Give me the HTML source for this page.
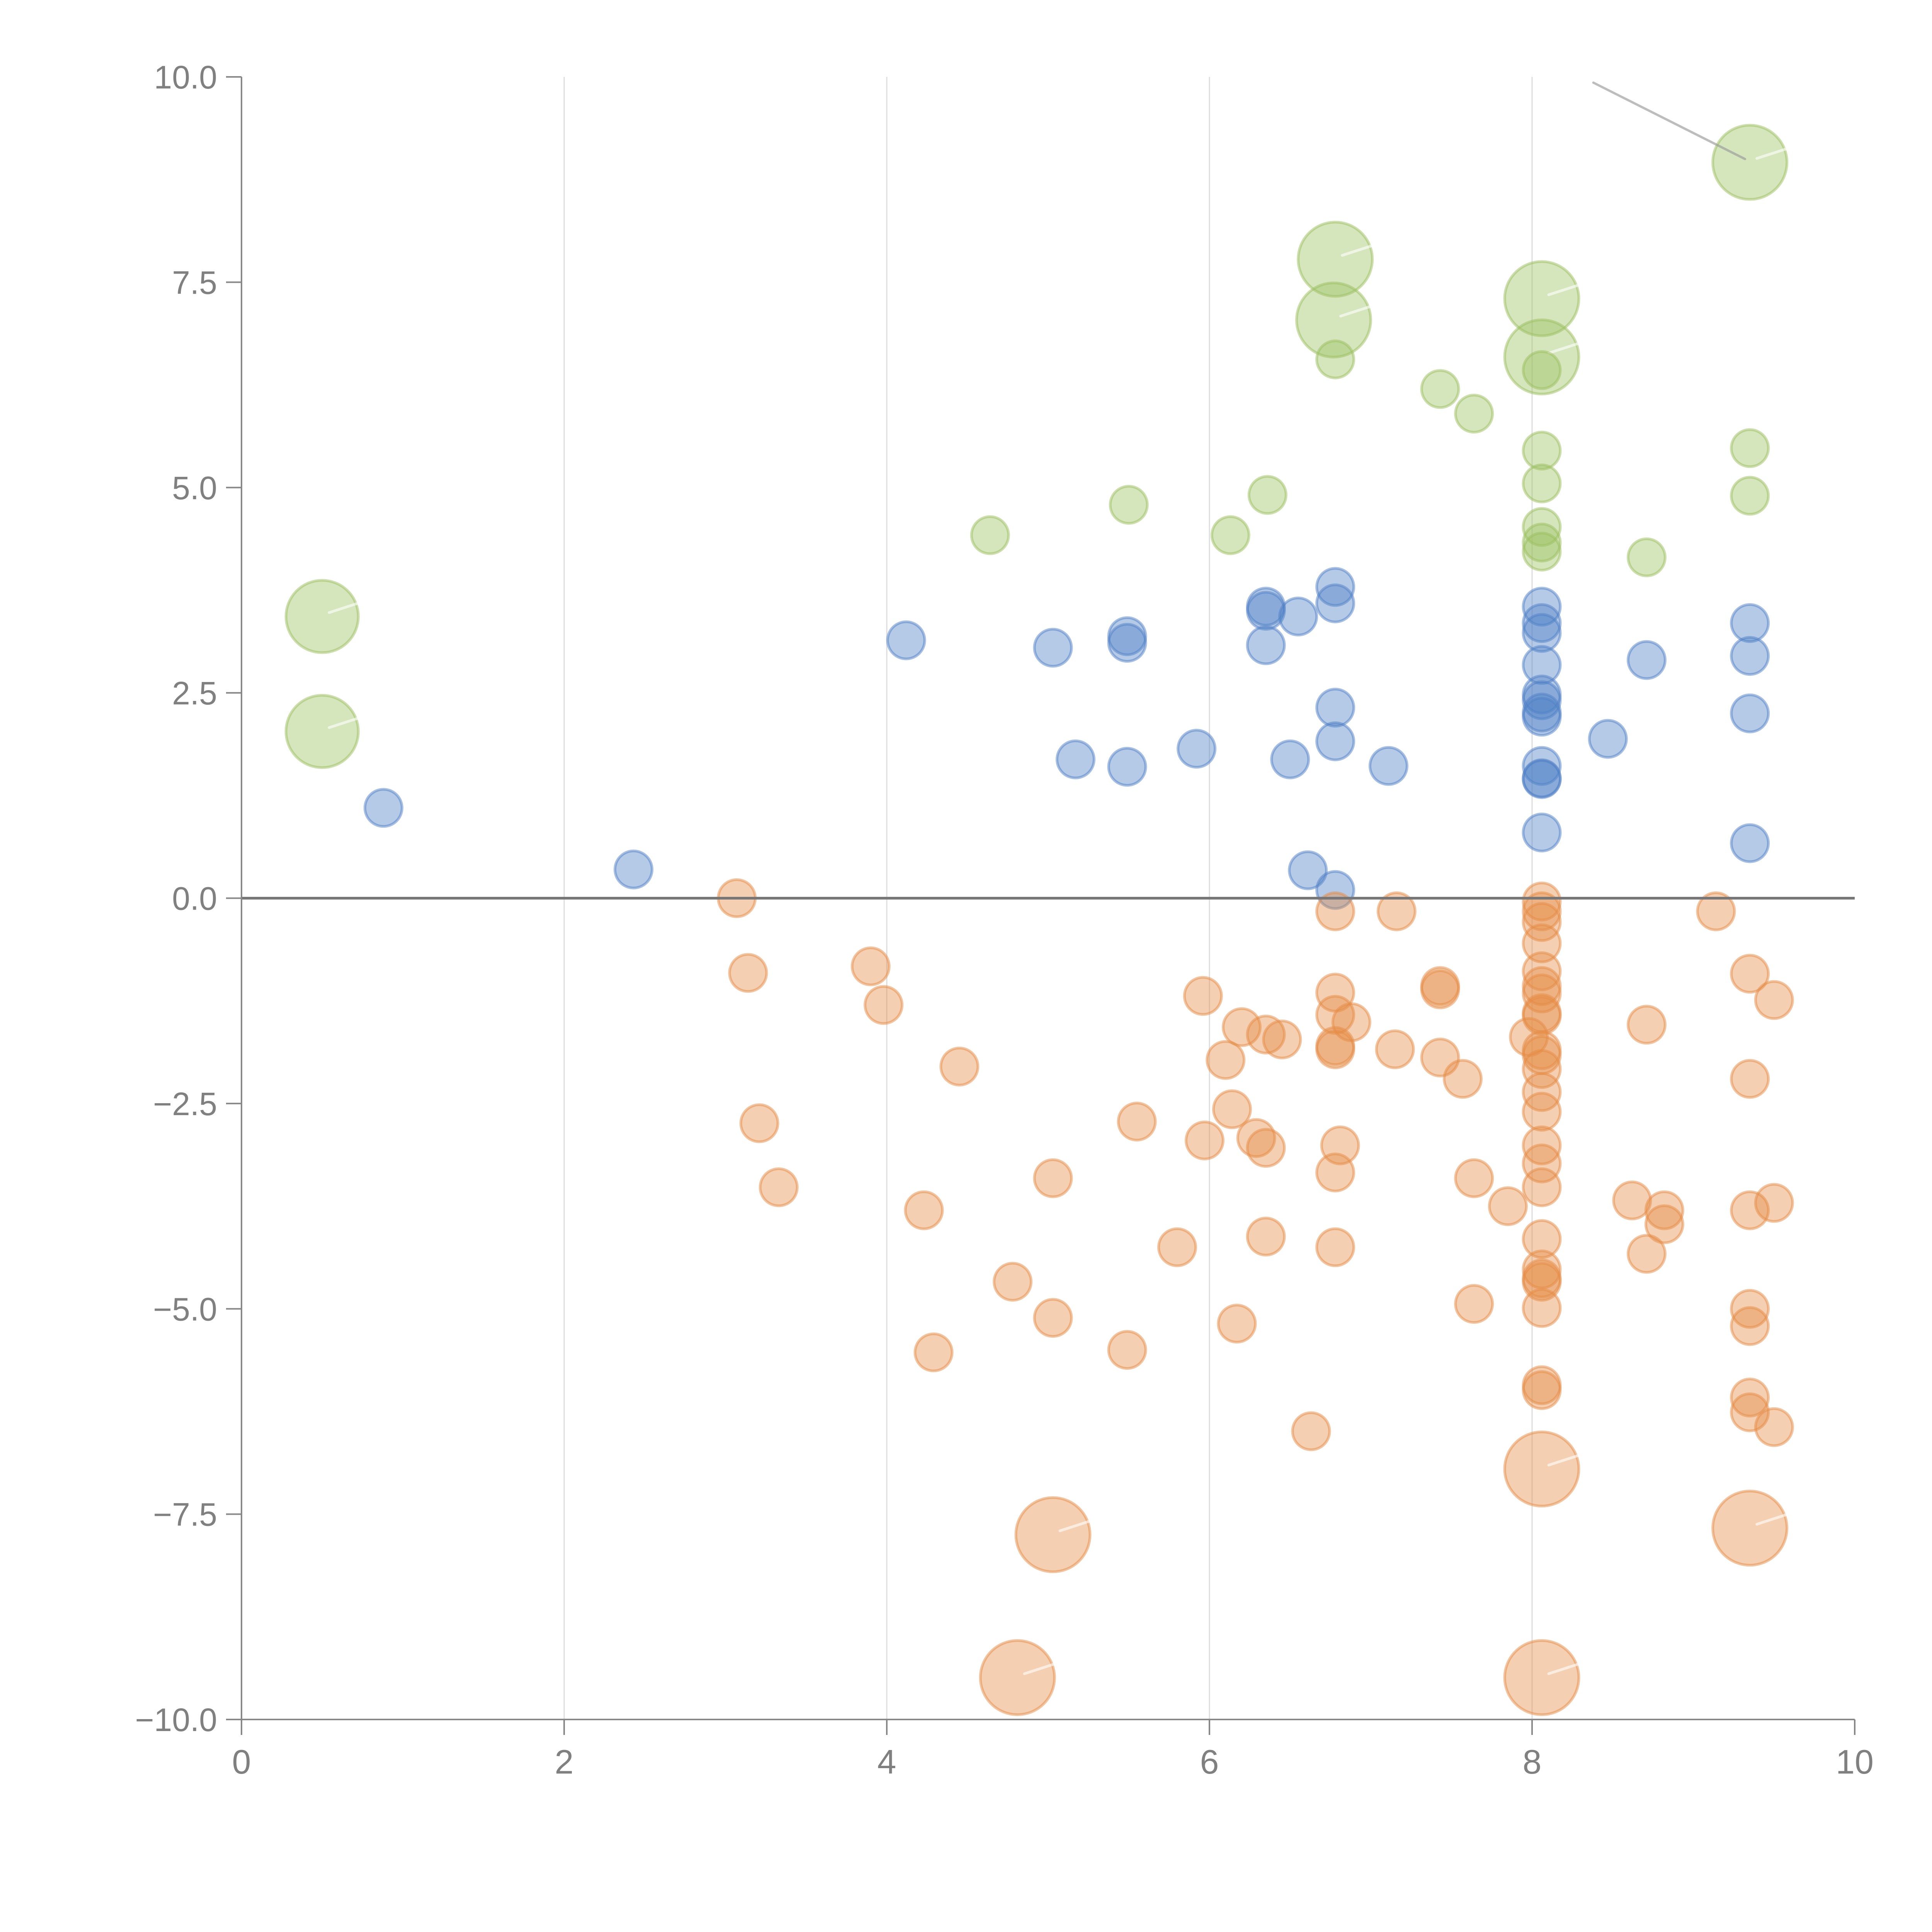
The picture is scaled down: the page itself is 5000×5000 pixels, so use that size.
<!DOCTYPE html>
<html><head><meta charset="utf-8"><style>
html,body{margin:0;padding:0;background:#fff;}
svg{display:block;font-family:"Liberation Sans",Arial,sans-serif;}
</style></head><body>
<svg id="chart" width="5000" height="5000" viewBox="0 0 5000 5000" xmlns="http://www.w3.org/2000/svg"></svg>
<script>
// ---- data ----
const xTicks=[0,2,4,6,8,10];
const yTicks=[-10,-7.5,-5,-2.5,0,2.5,5,7.5,10];
const yTickLabels=["\u221210.0","\u22127.5","\u22125.0","\u22122.5","0.0","2.5","5.0","7.5","10.0"];
const greenX=[0.50,0.50,9.35,6.78,6.77,6.78,8.06,8.06,8.06,7.43,7.64,8.06,8.06,8.06,8.06,8.06,9.35,9.35,8.71,6.36,5.50,6.13,4.64];
const greenY=[3.43,2.03,8.96,7.78,7.04,6.56,7.30,6.59,6.43,6.20,5.90,5.45,5.05,4.52,4.33,4.22,5.48,4.90,4.15,4.91,4.79,4.42,4.42];
const greenS=[1.95,1.95,2,2,2,1,2,2,1,1,1,1,1,1,1,1,1,1,1,1,1,1,1];
const blueX=[0.88,2.43,4.12,5.03,5.49,5.49,5.17,5.49,5.92,6.35,6.35,6.35,6.55,6.78,6.78,6.78,6.78,6.50,7.11,6.61,6.78,8.06,8.06,8.06,8.06,8.06,8.06,8.06,8.06,8.06,8.06,8.06,8.06,8.47,8.71,9.35,9.35,9.35,9.35];
const blueY=[1.10,0.35,3.14,3.05,3.19,3.11,1.69,1.60,1.82,3.55,3.50,3.08,3.43,3.79,3.59,2.32,1.91,1.69,1.61,0.34,0.10,3.55,3.35,3.23,2.84,2.48,2.41,2.26,2.21,1.61,1.46,1.45,0.80,1.94,2.90,3.35,2.95,2.25,0.67];
const orangeX=[3.07,3.14,3.21,3.33,3.90,3.98,4.45,4.23,4.29,4.78,5.03,5.03,5.49,5.55,5.80,5.96,5.97,6.10,6.14,6.20,6.17,6.29,6.35,6.45,6.35,6.35,6.63,6.78,6.78,6.78,6.88,6.78,6.78,6.81,6.78,6.78,7.16,7.15,7.43,7.43,7.43,7.57,7.64,7.64,7.85,7.98,
8.06,8.06,8.06,8.06,8.06,8.06,8.06,8.06,8.06,8.06,8.06,8.06,8.06,8.06,8.06,8.06,8.06,8.06,8.06,8.06,8.06,8.06,8.06,8.06,
8.06,8.06,5.03,4.81,9.35,
8.62,8.71,8.71,8.82,8.82,9.14,9.35,9.35,9.35,9.35,9.35,9.35,9.35,9.50,9.50,9.50];
const orangeY=[0.00,-0.91,-2.74,-3.52,-0.83,-1.30,-2.05,-3.80,-5.53,-4.67,-3.41,-5.11,-5.50,-2.72,-4.25,-1.19,-2.95,-1.97,-2.57,-1.57,-5.18,-2.92,-1.66,-1.72,-3.04,-4.12,-6.49,-0.16,-1.15,-1.42,-1.51,-1.80,-1.84,-3.01,-3.34,-4.25,-0.16,-1.84,-1.07,-1.11,-1.94,-2.20,-3.41,-4.94,-3.75,-1.69,
-0.04,-0.16,-0.29,-0.55,-0.89,-1.07,-1.16,-1.40,-1.43,-1.85,-1.91,-2.08,-2.36,-2.60,-3.01,-3.23,-3.52,-4.15,-4.52,-4.63,-4.67,-4.99,-5.93,-5.99,
-6.95,-9.49,-7.75,-9.49,-7.67,
-3.68,-1.54,-4.33,-3.80,-3.97,-0.16,-0.92,-2.20,-3.80,-5.00,-5.21,-6.08,-6.26,-1.24,-3.71,-6.44];
const orangeS=orangeX.map((_,i)=>(i>=70&&i<=74)?2:1);
const blueS=blueX.map(()=>1);

// ---- layout ----
const L=625,R=4800,T=199,B=4450;
const X=v=>L+(v-0)/(10-0)*(R-L);
const Y=v=>B-(v+10)/20*(B-T);
const NS="http://www.w3.org/2000/svg";
const svg=document.getElementById('chart');
function mk(tag,attrs,parent){const e=document.createElementNS(NS,tag);for(const k in attrs)e.setAttribute(k,attrs[k]);(parent||svg).appendChild(e);return e;}

// gridlines
const grid=mk('g',{});


xTicks.forEach(t=>{if(t===0||t===10)return;
  const l=mk('line',{x1:X(t),x2:X(t),y1:T,y2:B,stroke:'#dcdcdc','stroke-width':3},grid);
  
  
});

// series
function series(xs,ys,ss,fill,name){
  const g=mk('g',{});
  
  
  xs.forEach((x,i)=>{
    const r=ss[i]>1?48*ss[i]:48;
    const c=mk('circle',{cx:X(x),cy:Y(ys[i]),r:r,fill:fill,'fill-opacity':0.42,stroke:fill,'stroke-opacity':0.5,'stroke-width':7},g);
    
    
    if(ss[i]>1.5){
      const w=mk('line',{x1:X(x)+18,y1:Y(ys[i])-10,x2:X(x)+95,y2:Y(ys[i])-35,stroke:'#fff','stroke-opacity':0.6,'stroke-width':7,'stroke-linecap':'round'},g);
      
      
    }
  });
}
series(greenX,greenY,greenS,'#9cc060','green');
series(blueX,blueY,blueS,'#4f80c6','blue');
series(orangeX,orangeY,orangeS,'#e58c45','orange');

// top leader line
const ld=mk('line',{x1:X(8.38),y1:Y(9.93),x2:X(9.32),y2:Y(9.0),stroke:'#999','stroke-opacity':0.65,'stroke-width':6,'stroke-linecap':'round'});



// zero line
const z=mk('line',{x1:L,x2:R,y1:Y(0),y2:Y(0),stroke:'#777','stroke-width':7});



// axes
const ya=mk('line',{x1:L,x2:L,y1:T,y2:B+40,stroke:'#888','stroke-width':4});


const xa=mk('line',{x1:L-40,x2:R,y1:B,y2:B,stroke:'#888','stroke-width':4});



xTicks.forEach(t=>{
  const tk=mk('line',{x1:X(t),x2:X(t),y1:B,y2:B+40,stroke:'#888','stroke-width':4});
  
  
  const tx=mk('text',{x:X(t),y:4590,'text-anchor':'middle','font-size':88,fill:'#808080'});
  tx.textContent=String(t);
  
  
});
yTicks.forEach((t,i)=>{
  const tk=mk('line',{x1:L-40,x2:L,y1:Y(t),y2:Y(t),stroke:'#888','stroke-width':4});
  
  
  const tx=mk('text',{x:562,y:Y(t)+30,'text-anchor':'end','font-size':84,fill:'#808080'});
  tx.textContent=yTickLabels[i];
  
  
});
</script>
</body></html>
